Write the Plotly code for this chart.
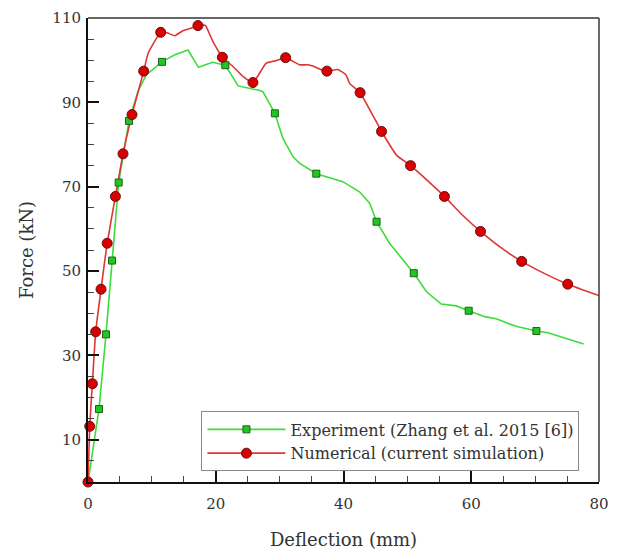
import plotly.graph_objects as go

# ---------------- data ----------------
# Experiment (green) curve
exp_line_x = [0, 1.72, 2.82, 3.76, 4.8, 6.42, 7.8, 9.1, 11.58, 13.6, 15.65, 17.3, 19.5, 21.5, 23.5, 26.9,
              27.4, 29.26, 30.5, 32.1, 33.1, 35.74, 39.9, 42.5, 44.1, 45.18, 47.2, 51.0, 53.0, 55.3,
              57.65, 59.6, 62.1, 63.9, 67.0, 70.2, 72.0, 77.6]
exp_line_y = [0, 17.3, 35.0, 52.5, 71.0, 85.6, 92.5, 96.5, 99.6, 101.3, 102.4, 98.3, 99.5, 98.8, 93.9, 92.8,
              92.5, 87.4, 81.5, 77.1, 75.6, 73.1, 71.2, 68.8, 66.1, 61.7, 56.6, 49.5, 45.1, 42.2,
              41.75, 40.6, 39.2, 38.7, 36.9, 35.8, 35.4, 32.7]
# Experiment markers
exp_mark_x = [1.72, 2.82, 3.76, 4.8, 6.42, 11.58, 21.5, 29.26, 35.74, 45.18, 51.0, 59.6, 70.2]
exp_mark_y = [17.3, 35.0, 52.5, 71.0, 85.6, 99.6, 98.8, 87.4, 73.1, 61.7, 49.5, 40.6, 35.8]

# Numerical (red) curve
num_line_x = [0, 0.27, 0.68, 1.2, 2.04, 3.0, 4.29, 5.48, 6.89, 8.72, 9.4, 11.38, 12.36, 13.57, 14.87,
              16.0, 17.21, 18.26, 18.5, 19.56, 21.03, 22.7, 24.3, 25.82, 27.9, 29.5, 30.94, 33.1,
              34.4, 35.2, 37.3, 39.1, 40.4, 40.95, 42.6, 45.96, 48.3, 50.5, 53.2, 55.8, 58.6,
              61.45, 64.6, 67.9, 71.5, 75.1, 80.0]
num_line_y = [0, 13.2, 23.3, 35.6, 45.7, 56.6, 67.7, 77.8, 87.1, 97.4, 101.6, 106.6, 106.5, 105.8, 107.0,
              107.5, 108.2, 108.3, 108.0, 104.4, 100.7, 98.5, 96.1, 94.7, 99.3, 99.9, 100.6, 98.9,
              98.9, 98.6, 97.3, 97.8, 96.5, 94.5, 92.3, 83.1, 77.5, 75.0, 71.4, 67.7, 63.3,
              59.4, 55.6, 52.3, 49.4, 46.9, 44.2]
# Numerical markers
num_mark_x = [0, 0.27, 0.68, 1.2, 2.04, 3.0, 4.29, 5.48, 6.89, 8.72, 11.38, 17.21, 21.03, 25.82,
              30.94, 37.4, 42.6, 45.96, 50.5, 55.8, 61.45, 67.9, 75.1]
num_mark_y = [0, 13.2, 23.3, 35.6, 45.7, 56.6, 67.7, 77.8, 87.1, 97.4, 106.6, 108.2, 100.7, 94.7,
              100.6, 97.4, 92.3, 83.1, 75.0, 67.7, 59.4, 52.3, 46.9]

exp_name = "Experiment (Zhang et al. 2015 [6])"
num_name = "Numerical (current simulation)"

x_ticks = [0, 20, 40, 60, 80]
y_ticks = [10, 30, 50, 70, 90, 110]

# ---------------- style ----------------
FONT = "DejaVu Serif"
GREEN_LINE = "#3ddc3d"
GREEN_FILL = "#1ec81e"
GREEN_EDGE = "#1f5f1f"
RED_LINE = "#e03535"
RED_FILL = "#d80000"
RED_EDGE = "#6a1010"
TXT = "#333333"

fig = go.Figure()

fig.add_trace(go.Scatter(x=exp_line_x, y=exp_line_y, mode="lines",
                         line=dict(color=GREEN_LINE, width=1.6), showlegend=False, hoverinfo="skip"))
fig.add_trace(go.Scatter(x=num_line_x, y=num_line_y, mode="lines",
                         line=dict(color=RED_LINE, width=1.6, shape="spline", smoothing=0.4),
                         showlegend=False, hoverinfo="skip"))
fig.add_trace(go.Scatter(x=exp_mark_x, y=exp_mark_y, mode="markers",
                         marker=dict(symbol="square", size=7, color=GREEN_FILL,
                                     line=dict(color=GREEN_EDGE, width=1)),
                         showlegend=False, cliponaxis=False))
fig.add_trace(go.Scatter(x=num_mark_x, y=num_mark_y, mode="markers",
                         marker=dict(symbol="circle", size=10, color=RED_FILL,
                                     line=dict(color=RED_EDGE, width=1)),
                         showlegend=False, cliponaxis=False))
# legend entries
fig.add_trace(go.Scatter(x=[None], y=[None], mode="lines+markers", name=exp_name,
                         line=dict(color=GREEN_LINE, width=1.6),
                         marker=dict(symbol="square", size=7, color=GREEN_FILL,
                                     line=dict(color=GREEN_EDGE, width=1))))
fig.add_trace(go.Scatter(x=[None], y=[None], mode="lines+markers", name=num_name,
                         line=dict(color=RED_LINE, width=1.6),
                         marker=dict(symbol="circle", size=10, color=RED_FILL,
                                     line=dict(color=RED_EDGE, width=1))))

axis_common = dict(
    showline=True, linecolor="#111111", linewidth=2,
    ticks="inside", ticklen=11, tickwidth=1.6, tickcolor="#111111",
    showgrid=False, zeroline=False, automargin=False,
    tickfont=dict(family=FONT, size=15, color=TXT),
    title_font=dict(family=FONT, size=18, color=TXT),
    minor=dict(ticks="inside", ticklen=6, tickwidth=1, tickcolor="#444444", dtick=5, tick0=0),
)

fig.update_xaxes(range=[0, 80], tickvals=x_ticks, title_text="Deflection (mm)",
                 ticklabelstandoff=7, title_standoff=28, **axis_common)
fig.update_yaxes(range=[0, 110], tickvals=y_ticks, title_text="Force (kN)",
                 ticklabelstandoff=2, title_standoff=14, **axis_common)

# top / right frame lines
fig.add_shape(type="line", xref="paper", yref="paper", x0=0, x1=1, y0=1, y1=1,
              line=dict(color="#333333", width=1.6))
fig.add_shape(type="line", xref="paper", yref="paper", x0=1, x1=1, y0=0, y1=1,
              line=dict(color="#444444", width=1.6))

fig.update_layout(
    width=605, height=542,
    margin=dict(l=80, r=14, t=10, b=68),
    plot_bgcolor="white", paper_bgcolor="white",
    font=dict(family=FONT, size=15, color=TXT),
    legend=dict(x=0.222, y=0.152, xanchor="left", yanchor="top",
                bordercolor="#888888", borderwidth=1, bgcolor="white",
                font=dict(family=FONT, size=16, color=TXT),
                itemwidth=78, tracegroupgap=0),
)

fig.write_html("out.html")
